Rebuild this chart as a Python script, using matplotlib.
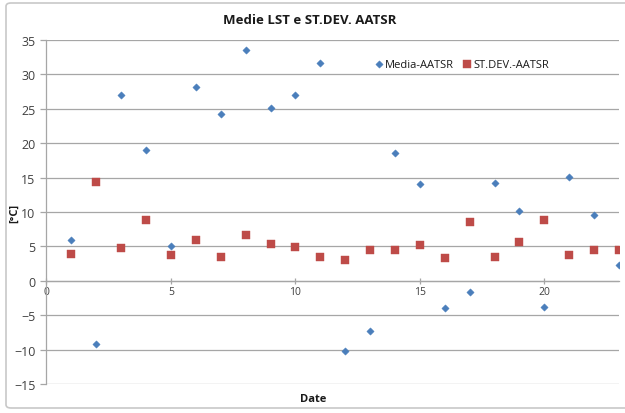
import matplotlib.pyplot as plt
from matplotlib.patches import FancyBboxPatch

# Date index for both series
dates = list(range(1, 24))

media_aatsr = [5.9, -9.2, 27.0, 19.0, 5.1, 28.2, 24.2, 33.5, 25.1, 27.0, 31.7,
               -10.2, -7.3, 18.6, 14.0, -4.0, -1.7, 14.2, 10.2, -3.8, 15.1, 9.6, 2.3]
stdev_aatsr = [3.9, 14.4, 4.8, 8.9, 3.8, 5.9, 3.5, 6.6, 5.3, 4.9, 3.4,
               3.0, 4.5, 4.5, 5.2, 3.3, 8.5, 3.5, 5.7, 8.8, 3.7, 4.5, 4.5]

x_ticks = [0, 5, 10, 15, 20]
y_ticks = [-15, -10, -5, 0, 5, 10, 15, 20, 25, 30, 35]

plt.rcParams['font.family'] = ['Open Sans', 'DejaVu Sans']

W, H = 625, 414
fig = plt.figure(figsize=(W / 100, H / 100), dpi=100)
fig.patch.set_facecolor('white')

# outer chart frame
frame = FancyBboxPatch((6 / W, 5 / H), 640 / W, 405 / H,
                       boxstyle="round,pad=0,rounding_size=0.008",
                       transform=fig.transFigure, facecolor='none',
                       edgecolor='#c8c8c8', linewidth=1.2, zorder=0)
fig.patches.append(frame)

ax = fig.add_axes([46.5 / W, 1 - 385 / H, (619 - 46.5) / W, (385 - 41) / H])
ax.set_facecolor('none')

grid_color = '#a6a6a6'
for v in y_ticks:
    ax.axhline(v, color=grid_color, linewidth=0.9, zorder=1)

ax.scatter(dates, media_aatsr, marker='D', s=14, color='#4a7ebb',
           edgecolor='#4a7ebb', linewidth=0.3, zorder=3, label='Media-AATSR')
ax.scatter(dates, stdev_aatsr, marker='s', s=30, color='#be4b48',
           edgecolor='#be4b48', linewidth=0.3, zorder=3, label='ST.DEV.-AATSR')

ax.set_xlim(0, 23)
ax.set_ylim(-15, 35)
ax.set_xticks(x_ticks)
ax.set_yticks(y_ticks)

for s in ['top', 'right']:
    ax.spines[s].set_visible(False)
ax.spines['left'].set_color(grid_color)
ax.spines['left'].set_linewidth(0.9)
ax.spines['bottom'].set_position(('data', 0))
ax.spines['bottom'].set_color(grid_color)
ax.spines['bottom'].set_linewidth(0.9)

ax.tick_params(axis='y', length=4, width=0.9, color=grid_color, pad=4,
               labelsize=9, labelcolor='#404040')
ax.tick_params(axis='x', length=4, width=0.9, color=grid_color, direction='inout',
               pad=2, labelsize=7.5, labelcolor='#404040')

fig.text(310 / W, 1 - 20 / H, 'Medie LST e ST.DEV. AATSR', ha='center', va='center',
         fontsize=9.5, fontweight='bold', color='#1a1a1a')
fig.text(313 / W, 1 - 400 / H, 'Date', ha='center', va='center',
         fontsize=8, fontweight='bold', color='#1a1a1a')
fig.text(15 / W, 1 - 213 / H, '[°C]', ha='center', va='center', rotation=90,
         fontsize=8, fontweight='bold', color='#1a1a1a')

leg = ax.legend(loc='center', bbox_to_anchor=(461 / W, 1 - 65 / H),
                bbox_transform=fig.transFigure, ncol=2, frameon=False,
                fontsize=8, handletextpad=0.0, columnspacing=0.6,
                handlelength=1.1, borderpad=0)
for t in leg.get_texts():
    t.set_color('#1a1a1a')

fig.savefig('out.png', dpi=100)
